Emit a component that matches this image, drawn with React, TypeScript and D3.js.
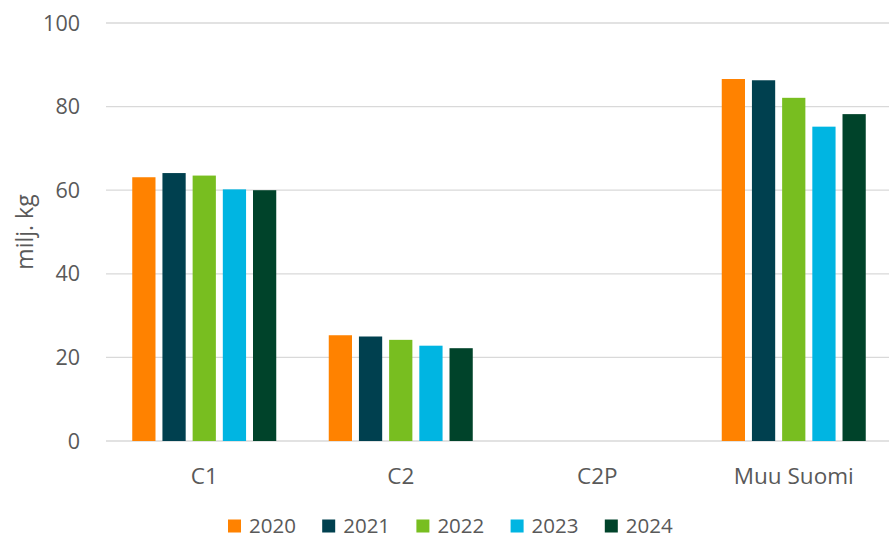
import React from "react";
import * as d3 from "d3";

const categories = ["C1", "C2", "C2P", "Muu Suomi"];
const years = ["2020", "2021", "2022", "2023", "2024"];
const v2020 = [63.1, 25.3, 0, 86.6];
const v2021 = [64.1, 25.0, 0, 86.3];
const v2022 = [63.5, 24.2, 0, 82.1];
const v2023 = [60.2, 22.8, 0, 75.2];
const v2024 = [60.0, 22.2, 0, 78.2];
const series = [v2020, v2021, v2022, v2023, v2024];
const colors = ["#FF8200", "#00404F", "#78BE20", "#00B5E2", "#00432A"];
const yTicks = [0, 20, 40, 60, 80, 100];

const W = 889;
const H = 539;
const font = "'Open Sans', 'Noto Sans', sans-serif";

export default function App() {
  const left = 106;
  const right = 889;
  const top = 23;
  const bottom = 441;
  const x0 = d3.scaleBand<string>().domain(categories).range([left, 892]).paddingInner(0).paddingOuter(0);
  const y = d3.scaleLinear().domain([0, 100]).range([bottom, top]);
  const groupW = 144;
  const x1 = d3.scaleBand<string>().domain(years).range([0, groupW]).paddingInner(0.23).paddingOuter(0);

  return (
    <svg width={W} height={H} style={{ position: "absolute", left: 0, top: 0 }} fontFamily={font}>
      <rect width={W} height={H} fill="#fff" />
      {yTicks.map((t) => (
        <g key={t}>
          <line x1={left} x2={right} y1={y(t)} y2={y(t)} stroke="#d9d9d9" strokeWidth={1.3} />
          <text x={80} y={y(t)} dy="0.35em" textAnchor="end" fontSize={21.5} fill="#595959">
            {t}
          </text>
        </g>
      ))}
      <text
        transform={`translate(25,${(top + bottom) / 2}) rotate(-90)`}
        textAnchor="middle"
        dy="0.35em"
        fontSize={23}
        fill="#595959"
      >
        milj. kg
      </text>
      {categories.map((c, ci) => {
        const gx = (x0(c) as number) + x0.bandwidth() / 2 - groupW / 2;
        return (
          <g key={c}>
            {series.map((s, si) =>
              s[ci] > 0 ? (
                <rect
                  key={si}
                  x={gx + (x1(years[si]) as number)}
                  y={y(s[ci])}
                  width={x1.bandwidth()}
                  height={y(0) - y(s[ci])}
                  fill={colors[si]}
                />
              ) : null
            )}
            <text
              x={(x0(c) as number) + x0.bandwidth() / 2}
              y={476}
              dy="0.35em"
              textAnchor="middle"
              fontSize={22.5}
              fill="#595959"
            >
              {c}
            </text>
          </g>
        );
      })}
      {years.map((yr, i) => {
        const lx = 228 + i * 94.2;
        return (
          <g key={yr}>
            <rect x={lx} y={519.5} width={13} height={13} fill={colors[i]} />
            <text x={lx + 21} y={526} dy="0.35em" fontSize={20.5} fill="#595959">
              {yr}
            </text>
          </g>
        );
      })}
    </svg>
  );
}
